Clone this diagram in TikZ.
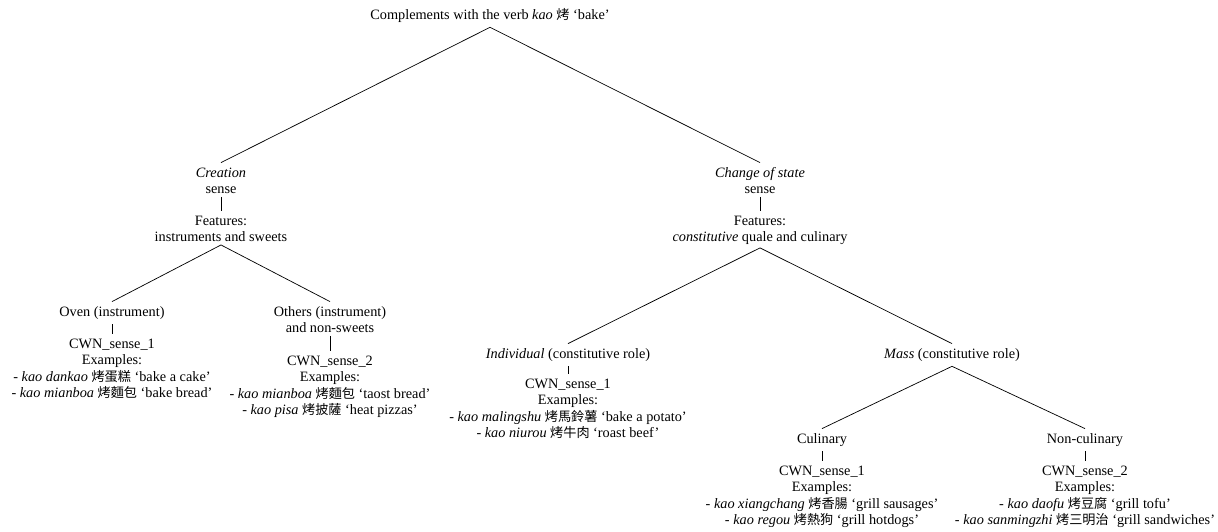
\documentclass[tikz,border=0pt]{standalone}
\usepackage{fontspec}
\setmainfont{Liberation Serif}
\newfontfamily\cjk{Noto Sans CJK TC}[Scale=0.92]
\newcommand{\zh}[1]{{\cjk #1}}
\begin{document}
\begin{tikzpicture}[x=0.7pt,y=-0.7pt,
  lbl/.style={align=center,inner sep=2pt,anchor=north,font=\fontsize{10}{11.5}\selectfont},
  edge/.style={line width=0.5pt}]
\useasboundingbox (0,0) rectangle (1218,531);
% root
\node[lbl] (root) at (490,4.6) {\strut Complements with the verb \textit{kao} \zh{烤} `bake'};
% creation branch
\node[lbl] (cre) at (221,162.6) {\strut\textit{Creation}\\sense};
\node[lbl] (creF) at (221,210.6) {\strut Features:\\instruments and sweets};
\node[lbl] (oven) at (112,301.6) {\strut Oven (instrument)};
\node[lbl] (ovenX) at (112,333.6) {\strut CWN\_sense\_1\\Examples:\\- \textit{kao dankao} \zh{烤蛋糕} `bake a cake'\\- \textit{kao mianboa} \zh{烤麵包} `bake bread'};
\node[lbl] (oth) at (330,301.6) {\strut Others (instrument)\\and non-sweets};
\node[lbl] (othX) at (330,350.6) {\strut CWN\_sense\_2\\Examples:\\- \textit{kao mianboa} \zh{烤麵包} `taost bread'\\- \textit{kao pisa} \zh{烤披薩} `heat pizzas'};
% change of state branch
\node[lbl] (chg) at (760,162.6) {\strut\textit{Change of state}\\sense};
\node[lbl] (chgF) at (760,210.6) {\strut Features:\\\textit{constitutive} quale and culinary};
\node[lbl] (ind) at (568,343.6) {\strut\textit{Individual} (constitutive role)};
\node[lbl] (indX) at (568,373.6) {\strut CWN\_sense\_1\\Examples:\\- \textit{kao malingshu} \zh{烤馬鈴薯} `bake a potato'\\- \textit{kao niurou} \zh{烤牛肉} `roast beef'};
\node[lbl] (mass) at (952,343.6) {\strut\textit{Mass} (constitutive role)};
\node[lbl] (cul) at (822,428.6) {\strut Culinary};
\node[lbl] (culX) at (822,460.6) {\strut CWN\_sense\_1\\Examples:\\- \textit{kao xiangchang} \zh{烤香腸} `grill sausages'\\- \textit{kao regou} \zh{烤熱狗} `grill hotdogs'};
\node[lbl] (ncul) at (1085,428.6) {\strut Non-culinary};
\node[lbl] (nculX) at (1085,460.6) {\strut CWN\_sense\_2\\Examples:\\- \textit{kao daofu} \zh{烤豆腐} `grill tofu'\\- \textit{kao sanmingzhi} \zh{烤三明治} `grill sandwiches'};
% connectors
\draw[edge] (root.south) -- (cre.north);
\draw[edge] (root.south) -- (chg.north);
\draw[edge] (cre.south) -- (creF.north);
\draw[edge] (creF.south) -- (oven.north);
\draw[edge] (creF.south) -- (oth.north);
\draw[edge] (oven.south) -- (ovenX.north);
\draw[edge] (oth.south) -- (othX.north);
\draw[edge] (chg.south) -- (chgF.north);
\draw[edge] (chgF.south) -- (ind.north);
\draw[edge] (chgF.south) -- (mass.north);
\draw[edge] (ind.south) -- (indX.north);
\draw[edge] (mass.south) -- (cul.north);
\draw[edge] (mass.south) -- (ncul.north);
\draw[edge] (cul.south) -- (culX.north);
\draw[edge] (ncul.south) -- (nculX.north);
\end{tikzpicture}
\end{document}
